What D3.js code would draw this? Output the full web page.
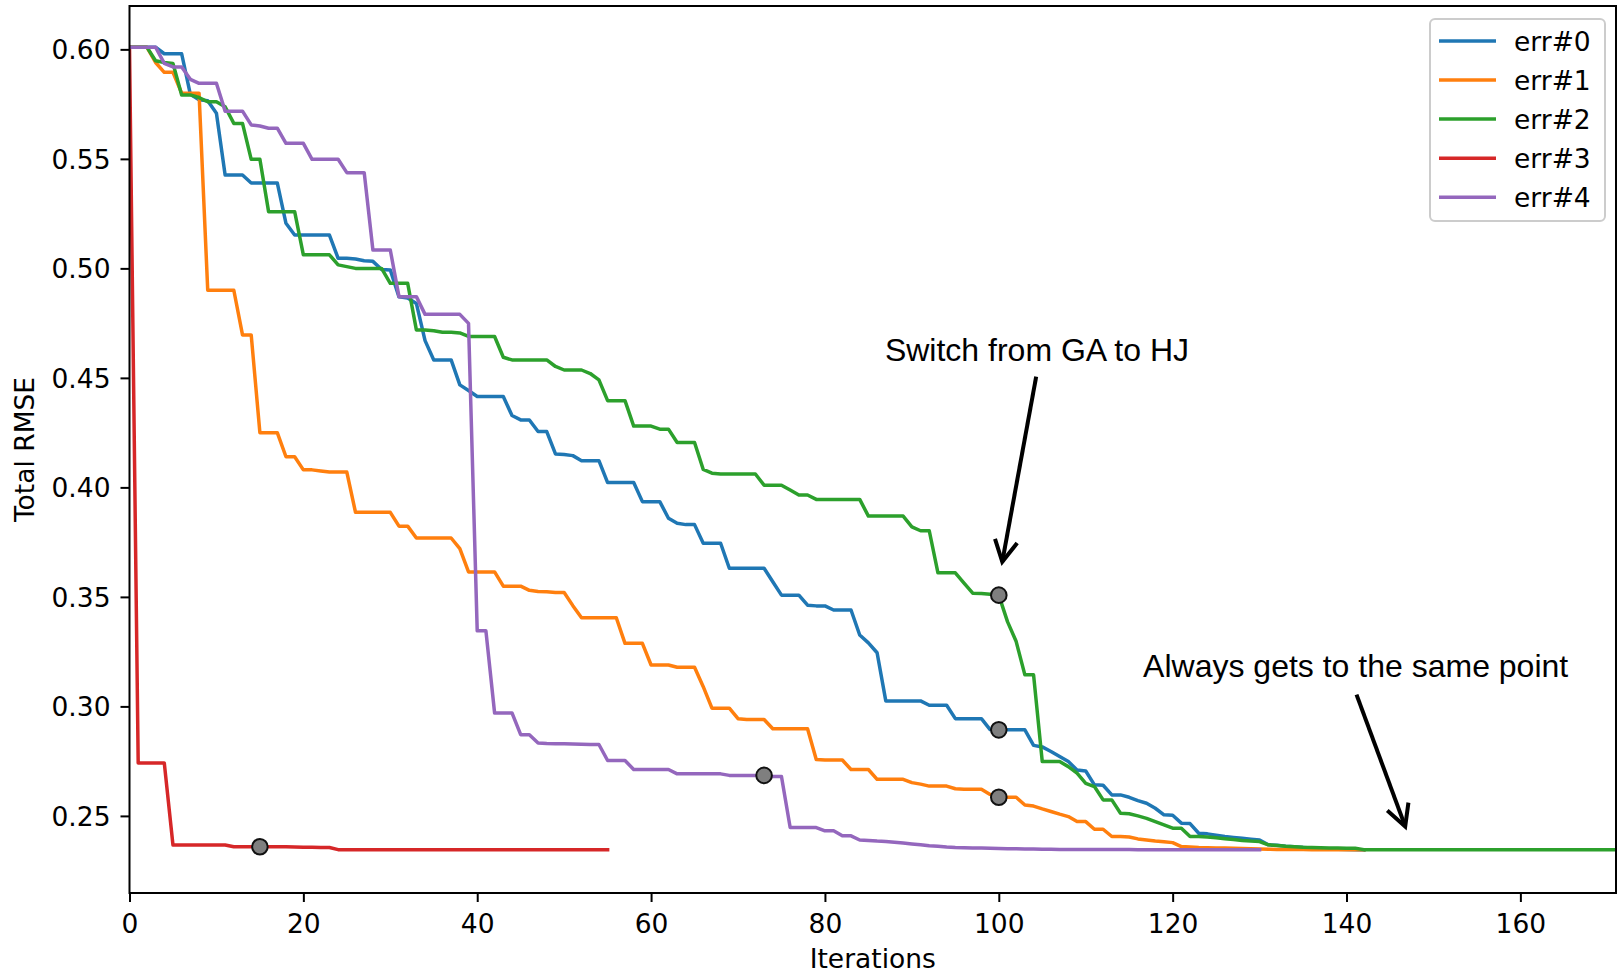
<!DOCTYPE html>
<html>
<head>
<meta charset="utf-8">
<script src="https://cdn.jsdelivr.net/npm/d3@7"></script>
<style>
html, body { margin: 0; padding: 0; background: #fff; }
svg { display: block; }
</style>
</head>
<body>
<svg id="chart" width="1617" height="974"></svg>
<script>
// ---------- data ----------
const seriesNames = ["err#0", "err#1", "err#2", "err#3", "err#4"];
const seriesColors = ["#1f77b4", "#ff7f0e", "#2ca02c", "#d62728", "#9467bd"];

// values indexed by iteration (0, 1, 2, ...)
const err0 = [
  0.601, 0.601, 0.601, 0.601, 0.598, 0.598, 0.598, 0.5795, 0.577, 0.5765,
  0.5708, 0.5426, 0.5426, 0.5426, 0.539, 0.539, 0.539, 0.539, 0.5206, 0.5152,
  0.5152, 0.5152, 0.5152, 0.5152, 0.5046, 0.5046, 0.5043, 0.5035, 0.5032, 0.4995,
  0.4993, 0.487, 0.4865, 0.484, 0.467, 0.4582, 0.4582, 0.4582, 0.4468, 0.4442,
  0.4415, 0.4415, 0.4415, 0.4415, 0.4328, 0.4308, 0.4308, 0.4255, 0.4255, 0.4153,
  0.415, 0.4145, 0.4122, 0.4122, 0.4122, 0.4022, 0.4022, 0.4022, 0.4022, 0.3935,
  0.3935, 0.3935, 0.3859, 0.3836, 0.383, 0.383, 0.3745, 0.3745, 0.3745, 0.3631,
  0.3631, 0.3631, 0.3631, 0.3631, 0.3569, 0.3508, 0.3508, 0.3508, 0.3462, 0.3459,
  0.3459, 0.344, 0.344, 0.344, 0.3326, 0.329, 0.3245, 0.3025, 0.3025, 0.3025,
  0.3025, 0.3025, 0.3005, 0.3005, 0.3005, 0.2944, 0.2944, 0.2944, 0.2944, 0.2894,
  0.2893, 0.2893, 0.2893, 0.2893, 0.2822, 0.2815, 0.2794, 0.2771, 0.2748, 0.271,
  0.2705, 0.2642, 0.264, 0.2596, 0.2596, 0.2585, 0.257, 0.2558, 0.2535, 0.2505,
  0.2503, 0.2467, 0.2465, 0.2421, 0.2418, 0.2412, 0.2406, 0.2402, 0.2398, 0.2394,
  0.239, 0.2368, 0.2366, 0.2362, 0.2359, 0.2356, 0.2353, 0.2351, 0.2349, 0.2348,
  0.2347, 0.2346, 0.2345
];
const err1 = [
  0.601, 0.601, 0.601, 0.594, 0.5895, 0.5895, 0.58, 0.58, 0.58, 0.49,
  0.49, 0.49, 0.49, 0.4696, 0.4696, 0.425, 0.425, 0.425, 0.414, 0.414,
  0.408, 0.408, 0.4075, 0.407, 0.407, 0.407, 0.3886, 0.3886, 0.3886, 0.3886,
  0.3886, 0.3823, 0.3823, 0.3769, 0.3769, 0.3769, 0.3769, 0.3769, 0.372, 0.3614,
  0.3614, 0.3614, 0.3614, 0.3549, 0.3549, 0.3549, 0.353, 0.3525, 0.3523, 0.352,
  0.352, 0.346, 0.3405, 0.3405, 0.3405, 0.3405, 0.3405, 0.3288, 0.3288, 0.3288,
  0.3189, 0.3189, 0.3189, 0.3179, 0.3179, 0.3179, 0.309, 0.2992, 0.2992, 0.2992,
  0.2944, 0.294, 0.294, 0.294, 0.2898, 0.2898, 0.2898, 0.2898, 0.2898, 0.2758,
  0.2755, 0.2755, 0.2755, 0.2712, 0.2712, 0.2712, 0.2667, 0.2667, 0.2667, 0.2667,
  0.2652, 0.2645, 0.2636, 0.2636, 0.2636, 0.2624, 0.2622, 0.2622, 0.2622, 0.2598,
  0.2585, 0.2585, 0.2585, 0.255, 0.2545, 0.2532, 0.252, 0.2508, 0.2497, 0.2474,
  0.2474, 0.2439, 0.2439, 0.2406, 0.2406, 0.2404, 0.2395, 0.239, 0.2385, 0.2382,
  0.2378, 0.236, 0.2358, 0.2356, 0.2355, 0.2354, 0.2353, 0.2352, 0.2351, 0.235,
  0.2349, 0.2348, 0.2347, 0.2347, 0.2347, 0.2347, 0.2346, 0.2346, 0.2346, 0.2345,
  0.2345, 0.2345, 0.2345
];
const err2 = [
  0.601, 0.601, 0.601, 0.5948, 0.594, 0.5936, 0.5792, 0.5792, 0.578, 0.5761,
  0.5761, 0.5738, 0.5662, 0.5662, 0.5498, 0.5498, 0.5259, 0.5259, 0.5259, 0.5259,
  0.5062, 0.5062, 0.5062, 0.5062, 0.5016, 0.5008, 0.5, 0.5, 0.5, 0.5,
  0.4932, 0.4932, 0.4932, 0.4719, 0.4719, 0.4715, 0.4708, 0.4708, 0.4705, 0.4689,
  0.4689, 0.4689, 0.4689, 0.4594, 0.4582, 0.4582, 0.4582, 0.4582, 0.4582, 0.4552,
  0.4536, 0.4536, 0.4536, 0.452, 0.4491, 0.4396, 0.4396, 0.4396, 0.428, 0.428,
  0.428, 0.4266, 0.4266, 0.4205, 0.4205, 0.4205, 0.4082, 0.4065, 0.4061, 0.4061,
  0.4061, 0.4061, 0.4061, 0.401, 0.401, 0.401, 0.3988, 0.3965, 0.3965, 0.3945,
  0.3945, 0.3945, 0.3945, 0.3945, 0.3945, 0.3869, 0.3869, 0.3869, 0.3869, 0.3869,
  0.382, 0.3802, 0.3802, 0.361, 0.361, 0.361, 0.3563, 0.3517, 0.3515, 0.3512,
  0.3508, 0.3387, 0.3296, 0.3144, 0.3144, 0.2748, 0.2748, 0.2748, 0.2725, 0.2695,
  0.2649, 0.2634, 0.2573, 0.2573, 0.2512, 0.251, 0.25, 0.2489, 0.2474, 0.2459,
  0.2444, 0.2444, 0.2406, 0.2406, 0.2404, 0.24, 0.2396, 0.2392, 0.2388, 0.2385,
  0.2383, 0.2368, 0.2365, 0.2361, 0.2359, 0.2357, 0.2356, 0.2355, 0.2354, 0.2353,
  0.2352, 0.2352, 0.2346, 0.2345, 0.2345, 0.2345, 0.2345, 0.2345, 0.2345, 0.2345,
  0.2345, 0.2345, 0.2345, 0.2345, 0.2345, 0.2345, 0.2345, 0.2345, 0.2345, 0.2345,
  0.2345, 0.2345, 0.2345, 0.2345, 0.2345, 0.2345, 0.2345, 0.2345, 0.2345, 0.2345,
  0.2345, 0.2345
];
const err3 = [
  0.601, 0.2742, 0.2742, 0.2742, 0.2742, 0.2367, 0.2367, 0.2367, 0.2367, 0.2367,
  0.2367, 0.2367, 0.2359, 0.2359, 0.2359, 0.2359, 0.2359, 0.2359, 0.2359, 0.2358,
  0.2357, 0.2357, 0.2356, 0.2356, 0.2346, 0.2346, 0.2346, 0.2346, 0.2346, 0.2346,
  0.2346, 0.2346, 0.2346, 0.2346, 0.2345, 0.2345, 0.2345, 0.2345, 0.2345, 0.2345,
  0.2345, 0.2345, 0.2345, 0.2345, 0.2345, 0.2345, 0.2345, 0.2345, 0.2345, 0.2345,
  0.2345, 0.2345, 0.2345, 0.2345, 0.2345, 0.2345
];
const err4 = [
  0.601, 0.601, 0.601, 0.601, 0.5936, 0.592, 0.592, 0.5863, 0.5845, 0.5845,
  0.5845, 0.5718, 0.5718, 0.5718, 0.5655, 0.565, 0.564, 0.564, 0.5571, 0.5571,
  0.5571, 0.5498, 0.5498, 0.5498, 0.5498, 0.5437, 0.5437, 0.5437, 0.5084, 0.5084,
  0.5084, 0.4871, 0.4871, 0.4871, 0.479, 0.479, 0.479, 0.479, 0.479, 0.4749,
  0.3345, 0.3345, 0.297, 0.297, 0.297, 0.2871, 0.2871, 0.2833, 0.2831, 0.283,
  0.2829, 0.2828, 0.2827, 0.2826, 0.2826, 0.2753, 0.2753, 0.2753, 0.2712, 0.2712,
  0.2712, 0.2712, 0.2712, 0.2692, 0.2692, 0.2692, 0.2692, 0.2692, 0.2692, 0.2685,
  0.2685, 0.2685, 0.2685, 0.2685, 0.268, 0.268, 0.2447, 0.2447, 0.2447, 0.2447,
  0.2432, 0.2432, 0.2409, 0.2409, 0.239, 0.2388, 0.2385, 0.2383, 0.238, 0.2376,
  0.2372, 0.2368, 0.2364, 0.2361, 0.2358, 0.2356, 0.2355, 0.2354, 0.2353, 0.2352,
  0.2351, 0.235, 0.235, 0.2349, 0.2349, 0.2348, 0.2348, 0.2347, 0.2347, 0.2347,
  0.2347, 0.2347, 0.2347, 0.2347, 0.2347, 0.2347, 0.2346, 0.2346, 0.2346, 0.2346,
  0.2346, 0.2346, 0.2346, 0.2346, 0.2346, 0.2346, 0.2346, 0.2346, 0.2346, 0.2346,
  0.2346
];
const allSeries = [err0, err1, err2, err3, err4];

// iteration where the optimiser switched from GA to HJ, per series
const switchSeries = [3, 4, 0, 1, 2];
const switchIters  = [15, 73, 100, 100, 100];

const xTicks = [0, 20, 40, 60, 80, 100, 120, 140, 160];
const yTicks = [0.25, 0.30, 0.35, 0.40, 0.45, 0.50, 0.55, 0.60];
const xDomain = [0, 171];
const yDomain = [0.2148, 0.6198];

const noteTexts = ["Switch from GA to HJ", "Always gets to the same point"];
const noteTextPos = [[86.9, 0.4575], [116.6, 0.3133]];
const noteTails = [[104.3, 0.4506], [141.15, 0.3054]];
const noteTips = [[100.4, 0.3660], [146.75, 0.2452]];

// ---------- layout ----------
const W = 1617, H = 974;
const plot = { left: 129.5, right: 1616, top: 6, bottom: 893 };
const tickFont = "'DejaVu Sans', sans-serif";
const noteFont = "'Liberation Sans', Arial, sans-serif";
const fontPx = "26.5px";

const svg = d3.select("#chart");
const x = d3.scaleLinear().domain(xDomain).range([plot.left, plot.right]);
const y = d3.scaleLinear().domain(yDomain).range([plot.bottom, plot.top]);

svg.append("defs").append("clipPath").attr("id", "clip")
  .append("rect")
  .attr("x", plot.left).attr("y", plot.top)
  .attr("width", plot.right - plot.left).attr("height", plot.bottom - plot.top);

// lines
const line = d3.line().x((d, i) => x(i)).y(d => y(d));
const linesG = svg.append("g").attr("clip-path", "url(#clip)");
allSeries.forEach((s, k) => {
  linesG.append("path")
    .datum(s)
    .attr("d", line)
    .attr("fill", "none")
    .attr("stroke", seriesColors[k])
    .attr("stroke-width", 3.5)
    .attr("stroke-linejoin", "round")
    .attr("stroke-linecap", "square");
});

// switch markers
svg.append("g").selectAll("circle")
  .data(switchSeries.map((s, k) => ({ i: switchIters[k], v: allSeries[s][switchIters[k]] })))
  .join("circle")
  .attr("cx", d => x(d.i))
  .attr("cy", d => y(d.v))
  .attr("r", 7.8)
  .attr("fill", "#7f7f7f")
  .attr("stroke", "#111")
  .attr("stroke-width", 2);

// axes
const xAxis = svg.append("g")
  .attr("transform", `translate(0,${plot.bottom})`)
  .call(d3.axisBottom(x).tickValues(xTicks).tickSize(9).tickFormat(d3.format("d")));
const yAxis = svg.append("g")
  .attr("transform", `translate(${plot.left},0)`)
  .call(d3.axisLeft(y).tickValues(yTicks).tickSize(9).tickFormat(d3.format(".2f")));

[xAxis, yAxis].forEach(g => {
  g.select(".domain").remove();
  g.selectAll(".tick line").attr("stroke", "#000").attr("stroke-width", 2);
  g.selectAll(".tick text")
    .attr("fill", "#000")
    .style("font-family", tickFont)
    .style("font-size", fontPx);
});
xAxis.selectAll(".tick text").attr("y", 39.5).attr("dy", null);
yAxis.selectAll(".tick text").attr("x", -19).attr("dy", "0.36em");

// spines
svg.append("rect")
  .attr("x", plot.left).attr("y", plot.top)
  .attr("width", plot.right - plot.left).attr("height", plot.bottom - plot.top)
  .attr("fill", "none").attr("stroke", "#000").attr("stroke-width", 2);

// axis labels
svg.append("text")
  .attr("x", (plot.left + plot.right) / 2).attr("y", 968)
  .attr("text-anchor", "middle")
  .style("font-family", tickFont).style("font-size", fontPx)
  .attr("fill", "#000")
  .text("Iterations");
svg.append("text")
  .attr("transform", `translate(33.5,${(plot.top + plot.bottom) / 2}) rotate(-90)`)
  .attr("text-anchor", "middle")
  .style("font-family", tickFont).style("font-size", fontPx)
  .attr("fill", "#000")
  .text("Total RMSE");

// legend
const legend = svg.append("g");
legend.append("rect")
  .attr("x", 1430).attr("y", 19).attr("width", 175).attr("height", 202)
  .attr("rx", 5).attr("fill", "#fff").attr("fill-opacity", 0.8)
  .attr("stroke", "#cccccc").attr("stroke-width", 2);
seriesNames.forEach((name, k) => {
  const cy = 41 + k * 39.05;
  legend.append("line")
    .attr("x1", 1439).attr("x2", 1496).attr("y1", cy).attr("y2", cy)
    .attr("stroke", seriesColors[k]).attr("stroke-width", 3.5);
  legend.append("text")
    .attr("x", 1514).attr("y", cy + 9.5)
    .style("font-family", tickFont).style("font-size", fontPx)
    .attr("fill", "#000")
    .text(name);
});

// annotations
const notes = svg.append("g");
noteTexts.forEach((t, k) => {
  notes.append("text")
    .attr("x", x(noteTextPos[k][0])).attr("y", y(noteTextPos[k][1]))
    .style("font-family", noteFont).style("font-size", "32px")
    .attr("fill", "#000")
    .text(t);
  const x0 = x(noteTails[k][0]), y0 = y(noteTails[k][1]);
  const x1 = x(noteTips[k][0]), y1 = y(noteTips[k][1]);
  notes.append("line")
    .attr("x1", x0).attr("y1", y0).attr("x2", x1).attr("y2", y1)
    .attr("stroke", "#000").attr("stroke-width", 4);
  const ang = Math.atan2(y0 - y1, x0 - x1);
  const L = 24, spread = 28 * Math.PI / 180;
  const a1 = [x1 + L * Math.cos(ang + spread), y1 + L * Math.sin(ang + spread)];
  const a2 = [x1 + L * Math.cos(ang - spread), y1 + L * Math.sin(ang - spread)];
  notes.append("path")
    .attr("d", `M${a1[0]},${a1[1]}L${x1},${y1}L${a2[0]},${a2[1]}`)
    .attr("fill", "none").attr("stroke", "#000").attr("stroke-width", 4)
    .attr("stroke-linejoin", "miter");
});
</script>
</body>
</html>
